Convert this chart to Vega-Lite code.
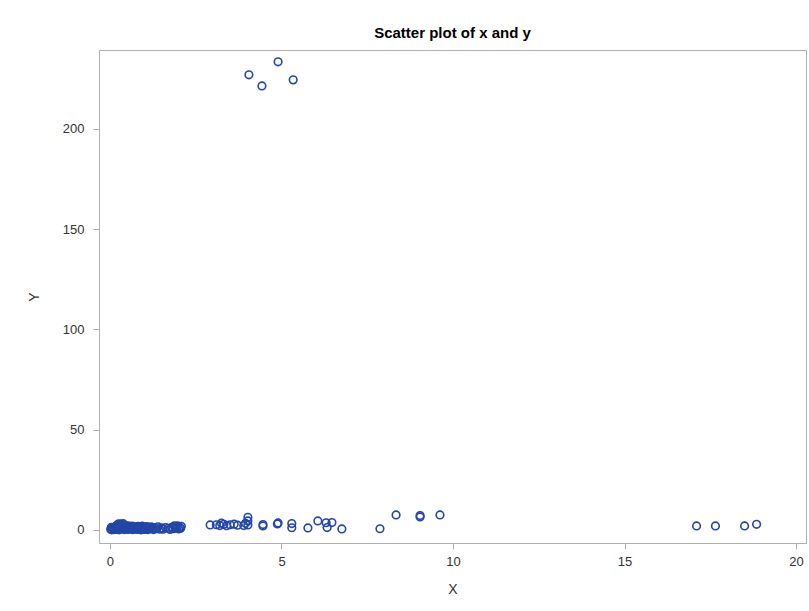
{
  "$schema": "https://vega.github.io/schema/vega-lite/v6.json",
  "autosize": "none",
  "width": 707,
  "height": 493,
  "padding": {"left": 99, "top": 50, "right": 3, "bottom": 68},
  "background": "white",
  "title": {"text": "Scatter plot of x and y", "font": "Liberation Sans", "fontSize": 15, "fontWeight": "bold", "color": "#000000", "offset": 9},
  "config": {
    "view": {"stroke": "#b0b0b0", "strokeWidth": 1},
    "axis": {"labelFont": "Liberation Sans", "titleFont": "Liberation Sans", "labelFontSize": 13, "titleFontSize": 14, "labelColor": "#333333", "titleColor": "#333333", "titleFontWeight": "normal", "grid": false, "domainColor": "#b0b0b0", "tickColor": "#b0b0b0", "tickSize": 6}
  },
  "data": {"values": [
    {"x": 4.05, "y": 227}, {"x": 4.43, "y": 221.5}, {"x": 4.9, "y": 233.5}, {"x": 5.34, "y": 224.5},
    {"x": 17.1, "y": 2}, {"x": 17.65, "y": 2}, {"x": 18.5, "y": 2}, {"x": 18.85, "y": 2.8},
    {"x": 7.87, "y": 0.6}, {"x": 8.34, "y": 7.5}, {"x": 9.04, "y": 6.5}, {"x": 9.04, "y": 7.2}, {"x": 9.62, "y": 7.5},
    {"x": 2.92, "y": 2.5}, {"x": 3.1, "y": 2.6}, {"x": 3.2, "y": 2.2}, {"x": 3.25, "y": 3.4}, {"x": 3.32, "y": 2.8},
    {"x": 3.4, "y": 2.1}, {"x": 3.5, "y": 2.6}, {"x": 3.62, "y": 2.9}, {"x": 3.72, "y": 2.4}, {"x": 3.9, "y": 2.2},
    {"x": 3.95, "y": 3.3}, {"x": 4.02, "y": 6.3}, {"x": 4.02, "y": 4.5}, {"x": 4.02, "y": 2.5},
    {"x": 4.46, "y": 2.0}, {"x": 4.46, "y": 2.7}, {"x": 4.9, "y": 3.5}, {"x": 4.88, "y": 3.0},
    {"x": 5.3, "y": 3.2}, {"x": 5.3, "y": 1.1}, {"x": 5.77, "y": 1.0}, {"x": 6.06, "y": 4.5},
    {"x": 6.3, "y": 3.6}, {"x": 6.33, "y": 1.2}, {"x": 6.47, "y": 3.7}, {"x": 6.76, "y": 0.5},
    {"x": 0.02, "y": 0.4}, {"x": 0.04, "y": 1.3}, {"x": 0.05, "y": 0.1}, {"x": 0.08, "y": 1.1}, {"x": 0.1, "y": 0.2},
    {"x": 0.12, "y": 0.8}, {"x": 0.15, "y": 1.5}, {"x": 0.17, "y": 0.3}, {"x": 0.18, "y": 1.9}, {"x": 0.2, "y": 2.2},
    {"x": 0.22, "y": 0.9}, {"x": 0.24, "y": 2.6}, {"x": 0.25, "y": 3.1}, {"x": 0.27, "y": 0.1}, {"x": 0.28, "y": 1.3},
    {"x": 0.3, "y": 1.6}, {"x": 0.31, "y": 0.6}, {"x": 0.32, "y": 2.9}, {"x": 0.35, "y": 0.6}, {"x": 0.36, "y": 2.1},
    {"x": 0.38, "y": 3.2}, {"x": 0.4, "y": 1.2}, {"x": 0.41, "y": 2.6}, {"x": 0.42, "y": 0.2}, {"x": 0.44, "y": 1.7},
    {"x": 0.45, "y": 2.0}, {"x": 0.48, "y": 0.7}, {"x": 0.5, "y": 1.4}, {"x": 0.52, "y": 2.1}, {"x": 0.53, "y": 0.3},
    {"x": 0.56, "y": 1.0}, {"x": 0.58, "y": 1.8}, {"x": 0.6, "y": 0.5}, {"x": 0.63, "y": 1.3}, {"x": 0.65, "y": 1.9},
    {"x": 0.66, "y": 0.2}, {"x": 0.7, "y": 0.9}, {"x": 0.72, "y": 1.6}, {"x": 0.73, "y": 0.4}, {"x": 0.77, "y": 1.1},
    {"x": 0.8, "y": 0.3}, {"x": 0.82, "y": 1.8}, {"x": 0.84, "y": 0.8}, {"x": 0.88, "y": 1.5}, {"x": 0.9, "y": 0.1},
    {"x": 0.92, "y": 0.5}, {"x": 0.94, "y": 1.9}, {"x": 0.96, "y": 1.0}, {"x": 1.0, "y": 0.3}, {"x": 1.02, "y": 1.4},
    {"x": 1.05, "y": 0.7}, {"x": 1.08, "y": 1.7}, {"x": 1.1, "y": 0.2}, {"x": 1.13, "y": 1.1}, {"x": 1.16, "y": 0.5},
    {"x": 1.2, "y": 1.5}, {"x": 1.23, "y": 0.8}, {"x": 1.27, "y": 0.2}, {"x": 1.3, "y": 1.2},
    {"x": 1.36, "y": 0.6}, {"x": 1.4, "y": 1.6}, {"x": 1.45, "y": 0.4}, {"x": 1.5, "y": 1.0},
    {"x": 1.55, "y": 0.4}, {"x": 1.62, "y": 1.2}, {"x": 1.7, "y": 0.8}, {"x": 1.75, "y": 0.3},
    {"x": 1.8, "y": 1.3}, {"x": 1.85, "y": 0.6}, {"x": 1.88, "y": 2.1}, {"x": 1.9, "y": 1.7}, {"x": 1.93, "y": 1.0},
    {"x": 1.97, "y": 2.0}, {"x": 2.0, "y": 0.5}, {"x": 2.03, "y": 1.4}, {"x": 2.06, "y": 0.9}, {"x": 2.08, "y": 1.8}
  ]},
  "mark": {"type": "point", "shape": "circle", "filled": false, "size": 58, "strokeWidth": 1.6, "color": "#2346a8", "opacity": 1},
  "encoding": {
    "x": {"field": "x", "type": "quantitative", "title": "X", "scale": {"domain": [-0.32, 20.29], "nice": false, "zero": false}, "axis": {"values": [0, 5, 10, 15, 20], "titlePadding": 14, "labelPadding": 6}},
    "y": {"field": "y", "type": "quantitative", "title": "Y", "scale": {"domain": [-6.5, 239.4], "nice": false, "zero": false}, "axis": {"values": [0, 50, 100, 150, 200], "titlePadding": 21, "labelPadding": 9}}
  }
}
